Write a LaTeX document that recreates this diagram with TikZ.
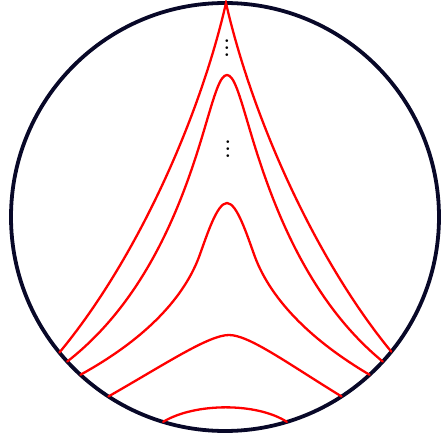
\documentclass[tikz,border=0pt]{standalone}
\definecolor{rim}{RGB}{8,8,40}
\begin{document}
\begin{tikzpicture}[x = 1pt, y = 1pt,
    horo/.style = {red, line width = 2.3pt, line cap = round},
    dots/.style = {anchor = base, scale = 1.75, font = \bfseries}]
    \useasboundingbox (-225,-225) rectangle (215,217);
    \draw[rim, line width = 3.8pt] (0,0) circle (214);
    \draw[horo] (219.3:214) .. controls (-88,-42) and (-25,100) .. (1,214)
        .. controls (27,100) and (90,-42) .. (321:214);
    \draw[horo] (222.5:214) .. controls (-75,-80) and (-40,22) .. (-20,90)
        .. controls (-10.5,122) and (-5,142) .. (2,142)
        .. controls (9,142) and (14.5,122) .. (24,90)
        .. controls (44,22) and (79,-80) .. (317.5:214);
    \draw[horo] (227.5:214) .. controls (-85,-125) and (-43,-85) .. (-26,-40)
        .. controls (-18,-18) and (-8,14) .. (2,14)
        .. controls (12,14) and (22,-18) .. (30,-40)
        .. controls (47,-85) and (89,-125) .. (312.5:214);
    \draw[horo] (237:214) .. controls (-58,-146) and (-16,-118) .. (4,-118)
        .. controls (24,-118) and (62,-146) .. (303:214);
    \draw[horo] (253.2:214) .. controls (-30,-185.5) and (32,-185.5) .. (286.8:214);
    \node[dots] (dotsA) at (2,160) {$\vdots$};
    \node[dots] (dotsB) at (3,59) {$\vdots$};
\end{tikzpicture}
\end{document}
